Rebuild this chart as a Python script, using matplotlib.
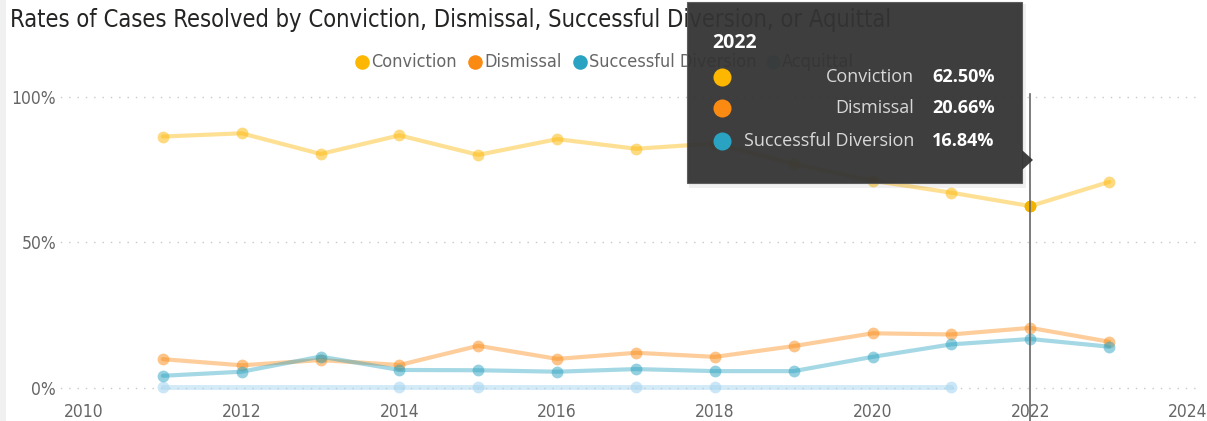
import matplotlib
matplotlib.use("Agg")
import matplotlib.pyplot as plt
from matplotlib.patches import Rectangle, Polygon
from matplotlib.lines import Line2D

years = [2011, 2012, 2013, 2014, 2015, 2016, 2017, 2018, 2019, 2020, 2021, 2022, 2023]
conviction = [86.4, 87.5, 80.4, 86.8, 80.1, 85.5, 82.2, 84.0, 77.0, 71.2, 67.1, 62.50, 70.8]
dismissal = [9.9, 7.8, 9.6, 7.9, 14.5, 10.0, 12.1, 10.7, 14.4, 18.8, 18.4, 20.66, 15.9]
diversion = [4.2, 5.6, 10.8, 6.2, 6.1, 5.6, 6.5, 5.8, 5.8, 10.7, 15.0, 16.84, 14.2]
acq_years = [2011, 2012, 2013, 2014, 2015, 2016, 2017, 2018, 2019, 2020, 2021]
acquittal = [0.3, 0.3, 0.3, 0.3, 0.3, 0.3, 0.3, 0.3, 0.3, 0.3, 0.3]
acq_marked = [2011, 2014, 2015, 2017, 2018, 2021]

series_names = ["Conviction", "Dismissal", "Successful Diversion", "Acquittal"]
colors = ["#FDB700", "#FB8A12", "#2AA2C1", "#A9D6F0"]
x_ticks = [2010, 2012, 2014, 2016, 2018, 2020, 2022, 2024]
y_ticks = [0, 50, 100]
y_labels = ["0%", "50%", "100%"]
hl_year = 2022

W, H = 1207, 421
fig = plt.figure(figsize=(W / 100, H / 100), dpi=100)
fig.patch.set_facecolor("white")

def fx(px):
    return px / W

def fy(py):
    return 1 - py / H

def dot(px, py, c, size, z=21):
    fig.add_artist(Line2D([fx(px)], [fy(py)], marker="o", ms=size, color=c, mec="none",
                          transform=fig.transFigure, zorder=z))

cond = dict(family="DejaVu Sans", fontstretch="condensed")
tipf = ["Open Sans", "DejaVu Sans"]

# light strip at left edge
fig.patches.append(Rectangle((0, 0), fx(6), 1, transform=fig.transFigure,
                             facecolor="#f0f0f0", edgecolor="none", zorder=0))

# axes: x 52..1200 px, y 85..400 px
ax = fig.add_axes([fx(52), fy(400), fx(1200 - 52), (400 - 85) / H])
ax.set_xlim(2009.594, 2024.152)
ax.set_ylim(-4.12, 104.1)
for s in ax.spines.values():
    s.set_visible(False)

for yv in y_ticks:
    ax.axhline(yv, color="#c8c8c8", linestyle=(0, (1, 5)), linewidth=1, zorder=1)

ax.set_yticks(y_ticks)
ax.set_yticklabels(y_labels, fontsize=12.5, color="#666666", **cond)
ax.set_xticks(x_ticks)
ax.set_xticklabels([str(t) for t in x_ticks], fontsize=12.5, color="#666666", **cond)
ax.tick_params(axis="both", length=0)
ax.tick_params(axis="x", pad=2)
ax.tick_params(axis="y", pad=-3)

lw = 3.0
ms = 8.5
ax.plot(acq_years, acquittal, color=colors[3], lw=3.5, alpha=0.5, zorder=2, solid_capstyle="round")
ax.plot(acq_marked, [acquittal[acq_years.index(y)] for y in acq_marked], "o",
        color=colors[3], ms=ms, alpha=0.6, mec="none", zorder=2)
for vals, c in zip([dismissal, diversion, conviction], [colors[1], colors[2], colors[0]]):
    ax.plot(years, vals, color=c, lw=lw, alpha=0.42, zorder=3, solid_capstyle="round")
    ax.plot(years, vals, "o", color=c, ms=ms, alpha=0.5, mec="none", zorder=3)

i = years.index(hl_year)
ax.plot([hl_year], [conviction[i]], "o", color="#F2B300", ms=ms, mec="none", zorder=5)

# hover line
ax.plot([hl_year, hl_year], [100.9, -12], color="#666666", lw=1.2, zorder=6, clip_on=False)

# title
fig.text(fx(10), fy(20), "Rates of Cases Resolved by Conviction, Dismissal, Successful Diversion, or Aquittal",
         fontsize=17, color="#252423", va="center", ha="left", **cond)

# legend
leg_x = [362, 475, 580, 773]
for name, c, lx in zip(series_names, colors, leg_x):
    dot(lx, 62, c, 10.5, z=3)
    fig.text(fx(lx + 9), fy(62), name, fontsize=13, color="#666666",
             va="center", ha="left", **cond)

# tooltip shadow
fig.patches.append(Rectangle((fx(689), fy(188)), fx(1026 - 689), (188 - 4) / H,
                             transform=fig.transFigure, facecolor="#000000",
                             edgecolor="none", alpha=0.06, zorder=19))
tip = Rectangle((fx(687), fy(183)), fx(1022 - 687), (183 - 2) / H, transform=fig.transFigure,
                facecolor="#343434", edgecolor="#5a5a5a", lw=0.8, alpha=0.95, zorder=20)
fig.patches.append(tip)
arrow = Polygon([(fx(1022), fy(150)), (fx(1033), fy(160)), (fx(1022), fy(170))],
                closed=True, transform=fig.transFigure, facecolor="#343434",
                edgecolor="none", alpha=0.95, zorder=20)
fig.patches.append(arrow)
fig.text(fx(712), fy(43), str(hl_year), family=tipf, fontsize=14,
         fontweight="bold", color="white", va="center", ha="left", zorder=21)
rows = [("Conviction", conviction[i], colors[0]),
        ("Dismissal", dismissal[i], colors[1]),
        ("Successful Diversion", diversion[i], colors[2])]
row_y = [77, 108, 141]
for (name, v, c), ry in zip(rows, row_y):
    dot(722, ry, c, 13)
    fig.text(fx(914), fy(ry), name, family=tipf, fontsize=13,
             color="#d8d8d8", va="center", ha="right", zorder=21)
    fig.text(fx(932), fy(ry), f"{v:.2f}%", family=tipf, fontsize=13,
             fontweight="bold", color="white", va="center", ha="left", zorder=21)

fig.savefig("out.png", dpi=100)
